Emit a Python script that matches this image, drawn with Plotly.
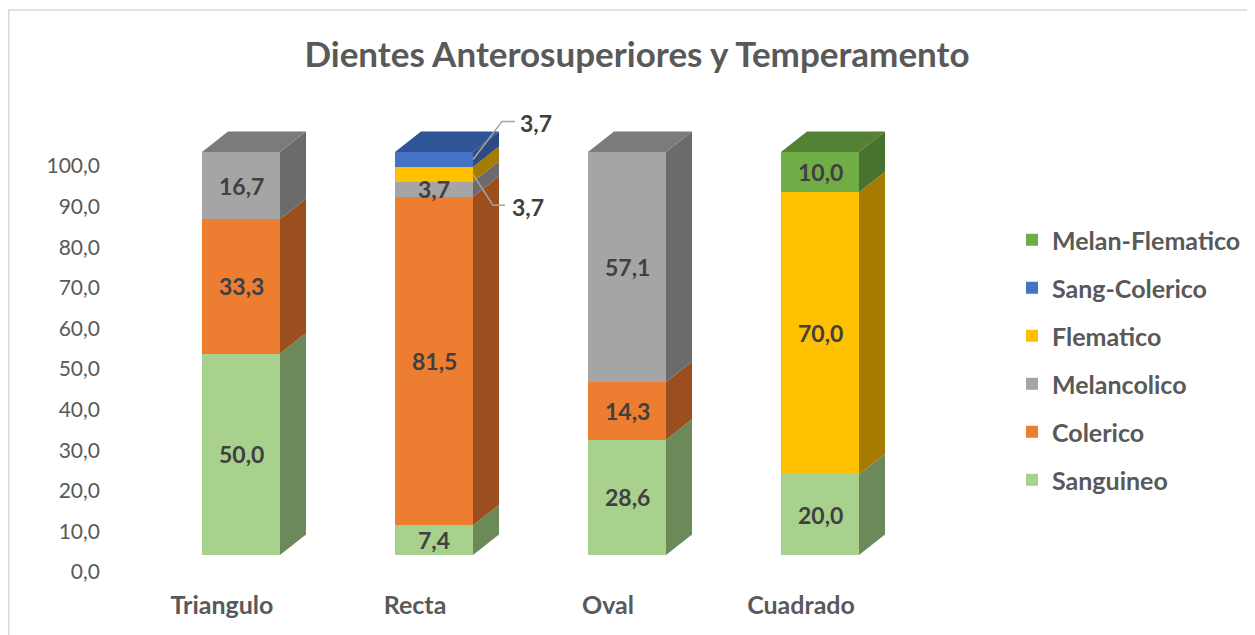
import plotly.graph_objects as go

categories = ["Triangulo", "Recta", "Oval", "Cuadrado"]
series_names = ["Sanguineo", "Colerico", "Melancolico", "Flematico", "Sang-Colerico", "Melan-Flematico"]

sanguineo = [50.0, 7.4, 28.6, 20.0]
colerico = [33.3, 81.5, 14.3, 0.0]
melancolico = [16.7, 3.7, 57.1, 0.0]
flematico = [0.0, 3.7, 0.0, 70.0]
sang_colerico = [0.0, 3.7, 0.0, 0.0]
melan_flematico = [0.0, 0.0, 0.0, 10.0]

y_ticks = [0, 10, 20, 30, 40, 50, 60, 70, 80, 90, 100]

values = [sanguineo, colerico, melancolico, flematico, sang_colerico, melan_flematico]

front_colors = ["#A9D18E", "#ED7D31", "#A5A5A5", "#FFC000", "#4472C4", "#70AD47"]
side_colors = ["#6C8A59", "#9C4F1E", "#6B6B6B", "#A67C00", "#2D4B82", "#48722E"]
top_colors = ["#7F9F6A", "#B35B23", "#7B7B7B", "#BF9000", "#2F5597", "#548235"]

# labels drawn outside with a leader line:
# (series, category) -> elbow dx, elbow dy, horizontal length, text gap (px)
outside_labels = {(4, 1): (29, -38, 13, 6), (3, 1): (20, 31, 12, 8)}

# pixel geometry (page body has an 8px margin, so shift everything)
OFF = 8
W, H = 1255, 635
L, R, T, B = 110 - OFF, 1000 - OFF, 100 - OFF, 588 - OFF
px_x = 193.0
x0_px = 241.0 - OFF
zero_px, scale = 572.0 - OFF, 4.06
zero2_px, scale2 = 555.0 - OFF, 4.03
bar_w = 78 / px_x
dx = 26 / px_x
dy = 20.5 / scale2

x_range = [-(x0_px - L) / px_x, (R - x0_px) / px_x]
y_range = [-(B - zero_px) / scale, (zero_px - T) / scale]
y2_range = [-(B - zero2_px) / scale2, (zero2_px - T) / scale2]

text_color = "#404040"
axis_color = "#595959"
font = "Lato"

fig = go.Figure()

xs = list(range(len(categories)))

# keeps the tick axis alive
fig.add_trace(
    go.Scatter(
        x=[x_range[0]],
        y=[0],
        mode="markers",
        marker_opacity=0,
        showlegend=False,
        hoverinfo="skip",
    )
)

for i, name in enumerate(series_names):
    fig.add_trace(
        go.Bar(
            x=xs,
            y=values[i],
            name=f"<b>{name}</b>",
            width=bar_w,
            marker_color=front_colors[i],
            marker_line_width=0,
            yaxis="y2",
            legendgroup=name,
            legendrank=len(series_names) - i,
            hoverinfo="skip",
        )
    )

# side and top faces
tops = [sum(v[k] for v in values) for k in xs]
for i, name in enumerate(series_names):
    sx, sy, tx, ty = [], [], [], []
    for k in xs:
        v = values[i][k]
        if v <= 0:
            continue
        base = sum(values[j][k] for j in range(i))
        top = base + v
        xr = k + bar_w / 2
        xl = k - bar_w / 2
        sx += [xr, xr + dx, xr + dx, xr, xr, None]
        sy += [base, base + dy, top + dy, top, base, None]
        if abs(top - tops[k]) < 1e-9:
            tx += [xl, xl + dx, xr + dx, xr, xl, None]
            ty += [top, top + dy, top + dy, top, top, None]
    for px_, py_, col in [(sx, sy, side_colors[i]), (tx, ty, top_colors[i])]:
        if px_:
            fig.add_trace(
                go.Scatter(
                    x=px_,
                    y=py_,
                    mode="lines",
                    fill="toself",
                    fillcolor=col,
                    line_width=0,
                    line_color=col,
                    yaxis="y2",
                    showlegend=False,
                    hoverinfo="skip",
                )
            )


def fmt(v):
    return f"{v:.1f}".replace(".", ",")


# data labels
for i in range(len(series_names)):
    for k in xs:
        v = values[i][k]
        if v <= 0:
            continue
        base = sum(values[j][k] for j in range(i))
        mid = base + v / 2
        if (i, k) in outside_labels:
            ex, ey, hl, gap = outside_labels[(i, k)]
            xa = k + bar_w / 2
            xb = xa + ex / px_x
            yb = mid - ey / scale2
            xc = xb + hl / px_x
            fig.add_trace(
                go.Scatter(
                    x=[xa, xb, xc],
                    y=[mid, yb, yb],
                    mode="lines",
                    line=dict(color="#A6A6A6", width=1.5),
                    yaxis="y2",
                    showlegend=False,
                    hoverinfo="skip",
                )
            )
            fig.add_annotation(
                x=xc,
                y=yb,
                xref="x",
                yref="y2",
                text=f"<b>{fmt(v)}</b>",
                showarrow=False,
                xanchor="left",
                xshift=gap - 3,
                yshift=-2,
                font=dict(family=font, size=23, color=text_color),
            )
        else:
            fig.add_annotation(
                x=k,
                y=mid,
                xref="x",
                yref="y2",
                text=f"<b>{fmt(v)}</b>",
                showarrow=False,
                font=dict(family=font, size=23, color=text_color),
            )

# chart border
fig.add_shape(
    type="rect",
    xref="paper",
    yref="paper",
    x0=(0.75 - L) / (R - L),
    x1=(W + 20 - L) / (R - L),
    y0=(B - (H + 20)) / (B - T),
    y1=(B - (10 - OFF)) / (B - T),
    line=dict(color="#D9D9D9", width=1.5),
    layer="below",
)

fig.update_layout(
    width=W,
    height=H,
    barmode="stack",
    plot_bgcolor="white",
    paper_bgcolor="white",
    margin=dict(l=L, r=W - R, t=T, b=H - B),
    title=dict(
        text="<b>Dientes Anterosuperiores y Temperamento</b>",
        x=(637 - OFF) / W,
        xref="container",
        xanchor="center",
        y=1 - (55 - OFF) / H,
        yref="container",
        yanchor="middle",
        font=dict(family=font, size=35, color=axis_color),
    ),
    xaxis=dict(
        range=x_range,
        tickvals=[k - 19 / px_x for k in xs],
        ticktext=[f"<b>{c}</b>" for c in categories],
        showgrid=False,
        zeroline=False,
        showline=False,
        ticks="",
        tickfont=dict(family=font, size=25, color=axis_color),
    ),
    yaxis=dict(
        range=y_range,
        tickvals=y_ticks,
        ticktext=[fmt(t) for t in y_ticks],
        showgrid=False,
        zeroline=False,
        showline=False,
        ticks="",
        ticklabelstandoff=9,
        tickfont=dict(family=font, size=21, color=axis_color),
    ),
    yaxis2=dict(
        range=y2_range,
        overlaying="y",
        visible=False,
    ),
    legend=dict(
        x=(1012 - OFF - L) / (R - L),
        xanchor="left",
        y=(B - (217 - OFF)) / (B - T),
        yanchor="top",
        traceorder="grouped",
        tracegroupgap=12.5,
        itemsizing="constant",
        font=dict(family=font, size=25, color=axis_color),
        itemclick=False,
    ),
    showlegend=True,
)

fig.write_html("out.html")
